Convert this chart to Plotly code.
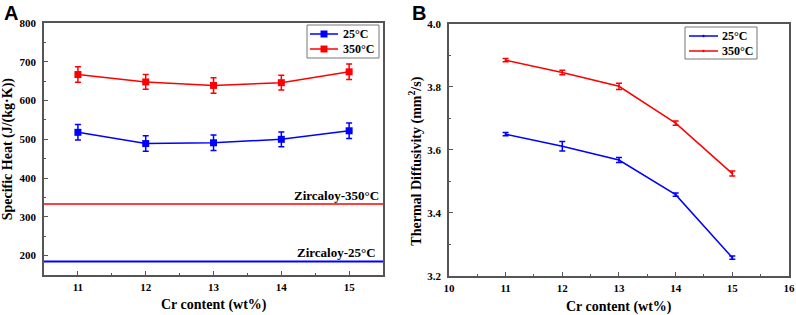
import plotly.graph_objects as go

cr = [11, 12, 13, 14, 15]
cp_25 = [518, 489, 491, 500, 522]
cp_25_err = [20, 20, 20, 19, 20]
cp_350 = [667, 648, 639, 646, 674]
cp_350_err = [20, 19, 20, 19, 20]
zirc_25 = 185
zirc_350 = 333

td_25 = [3.650, 3.612, 3.568, 3.458, 3.258]
td_25_err = [0.005, 0.015, 0.008, 0.005, 0.005]
td_350 = [3.885, 3.846, 3.802, 3.685, 3.525]
td_350_err = [0.005, 0.007, 0.010, 0.007, 0.008]

series_names = ["25°C", "350°C"]

BLUE = "#0000ff"
RED = "#ff0000"
FONT = "Liberation Serif"
AX = "#555555"
W, H = 796, 315

fig = go.Figure()

# Panel A
fig.add_trace(go.Scatter(x=cr, y=cp_25, mode="lines+markers", name=series_names[0],
    line=dict(color=BLUE, width=1.5), marker=dict(symbol="square", size=7, color=BLUE),
    error_y=dict(type="data", array=cp_25_err, color=BLUE, thickness=1.5, width=3),
    xaxis="x", yaxis="y", showlegend=False))
fig.add_trace(go.Scatter(x=cr, y=cp_350, mode="lines+markers", name=series_names[1],
    line=dict(color=RED, width=1.5), marker=dict(symbol="square", size=7, color=RED),
    error_y=dict(type="data", array=cp_350_err, color=RED, thickness=1.5, width=3),
    xaxis="x", yaxis="y", showlegend=False))
fig.add_trace(go.Scatter(x=[10.5, 15.5], y=[zirc_350, zirc_350], mode="lines",
    line=dict(color=RED, width=1.5), showlegend=False, xaxis="x", yaxis="y"))
fig.add_trace(go.Scatter(x=[10.5, 15.5], y=[zirc_25, zirc_25], mode="lines",
    line=dict(color=BLUE, width=2), showlegend=False, xaxis="x", yaxis="y"))

# Panel B
fig.add_trace(go.Scatter(x=cr, y=td_25, mode="lines+markers", name=series_names[0],
    line=dict(color=BLUE, width=1.5), marker=dict(symbol="circle", size=2, color=BLUE),
    error_y=dict(type="data", array=td_25_err, color=BLUE, thickness=1.5, width=3),
    xaxis="x2", yaxis="y2", showlegend=False))
fig.add_trace(go.Scatter(x=cr, y=td_350, mode="lines+markers", name=series_names[1],
    line=dict(color=RED, width=1.5), marker=dict(symbol="circle", size=2, color=RED),
    error_y=dict(type="data", array=td_350_err, color=RED, thickness=1.5, width=3),
    xaxis="x2", yaxis="y2", showlegend=False))

def ax(**kw):
    d = dict(showline=True, linecolor=AX, linewidth=1.5, mirror=True,
        ticks="inside", ticklen=4, tickcolor=AX, showgrid=False, zeroline=False,
        ticklabelstandoff=4, automargin=False,
        tickfont=dict(family=FONT, size=11, color="black", weight="bold"))
    d.update(kw)
    return d

title_font = dict(family=FONT, size=14, color="black", weight="bold")
leg_font = dict(family=FONT, size=12, color="black", weight="bold")

def px(x):
    return x / W

def py(y):
    return 1 - y / H

shapes = []
annotations = []

def legend_box(x0, x1, y0, y1, rows, line_x0, line_x1, text_x, with_square):
    shapes.append(dict(type="rect", xref="paper", yref="paper",
        x0=px(x0), x1=px(x1), y0=py(y1), y1=py(y0),
        line=dict(color="#777777", width=1), fillcolor="white", layer="above"))
    for (ry, color, label) in rows:
        shapes.append(dict(type="line", xref="paper", yref="paper",
            x0=px(line_x0), x1=px(line_x1), y0=py(ry), y1=py(ry),
            line=dict(color=color, width=1.5), layer="above"))
        mx = (line_x0 + line_x1) / 2
        if with_square:
            shapes.append(dict(type="rect", xref="paper", yref="paper",
                x0=px(mx - 3.5), x1=px(mx + 3.5), y0=py(ry + 3.5), y1=py(ry - 3.5),
                line=dict(width=0), fillcolor=color, layer="above"))
        else:
            shapes.append(dict(type="circle", xref="paper", yref="paper",
                x0=px(mx - 1.2), x1=px(mx + 1.2), y0=py(ry + 1.2), y1=py(ry - 1.2),
                line=dict(width=0), fillcolor=color, layer="above"))
        annotations.append(dict(text=label, x=px(text_x), y=py(ry), xref="paper", yref="paper",
            xanchor="left", yanchor="middle", showarrow=False, font=leg_font, borderpad=0))

legend_box(307, 379, 25, 58,
           [(34, BLUE, series_names[0]), (49, RED, series_names[1])],
           310, 338, 342, True)
legend_box(685, 757, 27, 59,
           [(36, BLUE, series_names[0]), (51, RED, series_names[1])],
           689, 718, 721, False)

annotations += [
    dict(text="<b>A</b>", x=0.003, y=1.0, xref="paper", yref="paper", xanchor="left", yanchor="top",
         showarrow=False, font=dict(family="Liberation Sans", size=20, color="black")),
    dict(text="<b>B</b>", x=0.515, y=1.0, xref="paper", yref="paper", xanchor="left", yanchor="top",
         showarrow=False, font=dict(family="Liberation Sans", size=20, color="black")),
    dict(text="Specific Heat (J/(kg·K))", x=0.0105, y=0.527, xref="paper", yref="paper",
         xanchor="center", yanchor="middle",
         textangle=-90, showarrow=False, font=title_font),
    dict(text="Thermal Diffusivity (mm<sup>2</sup>/s)", x=0.5226, y=0.49, xref="paper", yref="paper",
         xanchor="center", yanchor="middle",
         textangle=-90, showarrow=False, font=title_font),
    dict(text="Cr content (wt%)", x=0.269, y=0.032, xref="paper", yref="paper",
         xanchor="center", yanchor="middle", showarrow=False, font=title_font),
    dict(text="Cr content (wt%)", x=0.778, y=0.026, xref="paper", yref="paper",
         xanchor="center", yanchor="middle", showarrow=False, font=title_font),
    dict(text="<b>Zircaloy-350°C</b>", x=15.47, y=zirc_350, xref="x", yref="y",
         xanchor="right", yanchor="bottom", showarrow=False, yshift=-1,
         font=dict(family=FONT, size=13, color="black")),
    dict(text="<b>Zircaloy-25°C</b>", x=15.42, y=zirc_25, xref="x", yref="y",
         xanchor="right", yanchor="bottom", showarrow=False, yshift=-1,
         font=dict(family=FONT, size=13, color="black")),
]

fig.update_layout(
    width=W, height=H,
    margin=dict(l=0, r=0, t=0, b=0),
    paper_bgcolor="white", plot_bgcolor="white",
    font=dict(family=FONT, color="black"),
    showlegend=False,
    xaxis=ax(domain=[0.0553, 0.4812], range=[10.5, 15.5], tickvals=[11, 12, 13, 14, 15],
        ticklabelstandoff=1,
        minor=dict(ticks="inside", ticklen=2, tickcolor=AX, dtick=0.5)),
    yaxis=ax(domain=[0.127, 0.927], range=[150, 800], tickvals=[200, 300, 400, 500, 600, 700, 800],
        minor=dict(ticks="inside", ticklen=2, tickcolor=AX, dtick=50)),
    xaxis2=ax(domain=[0.564, 0.9912], range=[10, 16], dtick=1, anchor="y2",
        ticklabelstandoff=1,
        minor=dict(ticks="inside", ticklen=2, tickcolor=AX, dtick=0.5)),
    yaxis2=ax(domain=[0.124, 0.924], range=[3.2, 4.0], tickvals=[3.2, 3.4, 3.6, 3.8, 4.0],
        tickformat=".1f", anchor="x2",
        minor=dict(ticks="inside", ticklen=2, tickcolor=AX, dtick=0.1)),
    shapes=shapes,
    annotations=annotations,
)

fig.write_html("out.html", config={"displayModeBar": False},
               post_script="document.body.style.margin='0px';document.body.style.overflow='hidden';")
